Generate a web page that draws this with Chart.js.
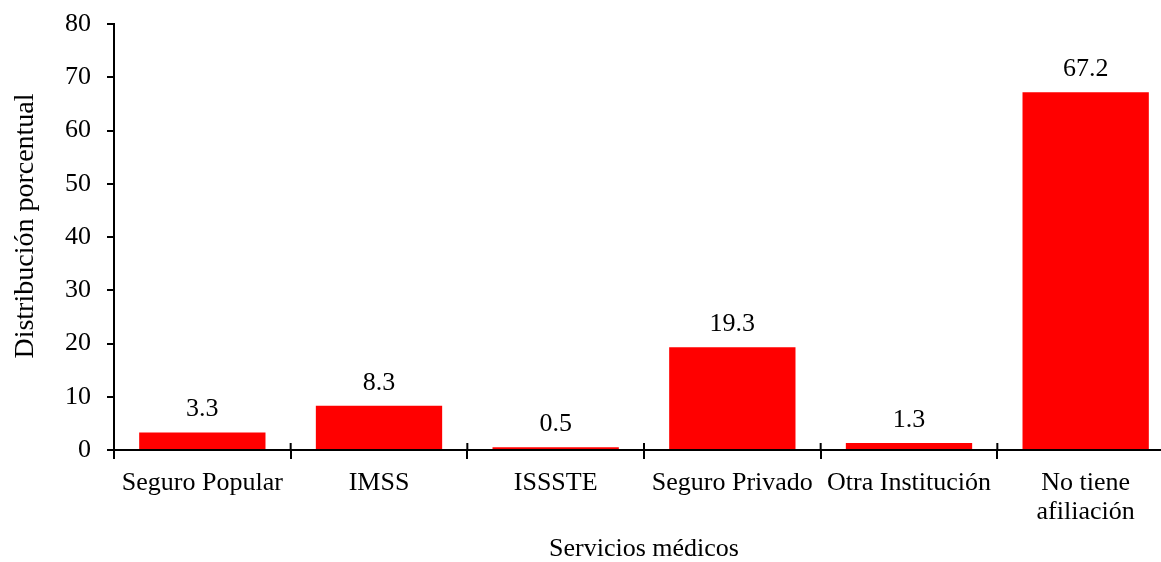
<!DOCTYPE html>
<html>
<head>
<meta charset="utf-8">
<script src="https://cdn.jsdelivr.net/npm/chart.js@4/dist/chart.umd.min.js"></script>
<style>
  html, body { margin: 0; padding: 0; background: #fff; overflow: hidden; }
  #wrap { width: 1180px; height: 562px; }
</style>
</head>
<body>
<div id="wrap"><canvas id="c" width="1180" height="562"></canvas></div>
<script>
const categories = ["Seguro Popular", "IMSS", "ISSSTE", "Seguro Privado", "Otra Institución", ["No tiene", "afiliación"]];
const values = [3.3, 8.3, 0.5, 19.3, 1.3, 67.2];
const yTicks = [0, 10, 20, 30, 40, 50, 60, 70, 80];
const xTitle = "Servicios médicos";
const yTitle = "Distribución porcentual";

const FONT = "'Liberation Serif', 'Times New Roman', serif";

const valueLabels = {
  id: 'valueLabels',
  afterDatasetsDraw(chart) {
    const ctx = chart.ctx;
    const meta = chart.getDatasetMeta(0);
    ctx.save();
    ctx.font = "26px " + FONT;
    ctx.fillStyle = "#000";
    ctx.textAlign = "center";
    ctx.textBaseline = "alphabetic";
    meta.data.forEach((bar, i) => {
      ctx.fillText(values[i].toFixed(1), bar.x, bar.y - 16);
    });
    ctx.restore();
  }
};

const yTitlePlugin = {
  id: 'yTitlePlugin',
  afterDraw(chart) {
    const ca = chart.chartArea;
    const ctx = chart.ctx;
    ctx.save();
    ctx.translate(33, (ca.top + ca.bottom) / 2 - 11);
    ctx.rotate(-Math.PI / 2);
    ctx.font = "28px " + FONT;
    ctx.fillStyle = "#000";
    ctx.textAlign = "center";
    ctx.textBaseline = "alphabetic";
    ctx.fillText(yTitle, 0, 0);
    ctx.restore();
  }
};

const crossTicks = {
  id: 'crossTicks',
  afterDraw(chart) {
    const xs = chart.scales.x;
    const ctx = chart.ctx;
    const n = categories.length;
    const w = (xs.right - xs.left) / n;
    ctx.save();
    ctx.strokeStyle = "#000";
    ctx.lineWidth = 2;
    ctx.beginPath();
    for (let i = 1; i <= n; i++) {
      const x = xs.left + i * w;
      ctx.moveTo(x, xs.top);
      ctx.lineTo(x, xs.top - 7);
    }
    ctx.stroke();
    ctx.restore();
  }
};

new Chart(document.getElementById('c'), {
  type: 'bar',
  data: {
    labels: categories,
    datasets: [{
      data: values,
      backgroundColor: '#ff0000',
      borderWidth: 0,
      categoryPercentage: 1.0,
      barPercentage: 0.715
    }]
  },
  options: {
    responsive: false,
    animation: false,
    devicePixelRatio: 1,
    layout: { padding: { top: 24, right: 6, left: 0, bottom: 0 } },
    plugins: { legend: { display: false }, tooltip: { enabled: false } },
    scales: {
      x: {
        offset: true,
        afterFit(scale) { scale.height = 112; scale.paddingLeft = 0; scale.paddingRight = 0; },
        grid: {
          offset: true,
          drawOnChartArea: false,
          drawTicks: true,
          tickLength: 9,
          color: '#000',
          lineWidth: 2
        },
        border: { display: true, color: '#000', width: 2 },
        ticks: {
          color: '#000',
          font: { family: FONT, size: 26, lineHeight: 1.1 },
          padding: 10,
          maxRotation: 0,
          autoSkip: false
        },
        title: {
          display: true,
          text: xTitle,
          color: '#000',
          font: { family: FONT, size: 26, lineHeight: 1.0 },
          padding: 0
        }
      },
      y: {
        min: 0,
        max: 80,
        afterFit(scale) { scale.width = 114; scale.paddingTop = 0; scale.paddingBottom = 0; },
        afterBuildTicks(scale) { scale.ticks = yTicks.map(v => ({ value: v })); },
        grid: {
          drawOnChartArea: false,
          drawTicks: true,
          tickLength: 7,
          color: '#000',
          lineWidth: 2
        },
        border: { display: true, color: '#000', width: 2 },
        ticks: {
          color: '#000',
          font: { family: FONT, size: 26 },
          padding: 16,
          callback: (v) => String(v)
        },
        title: { display: false }
      }
    }
  },
  plugins: [valueLabels, crossTicks, yTitlePlugin]
});
</script>
</body>
</html>
